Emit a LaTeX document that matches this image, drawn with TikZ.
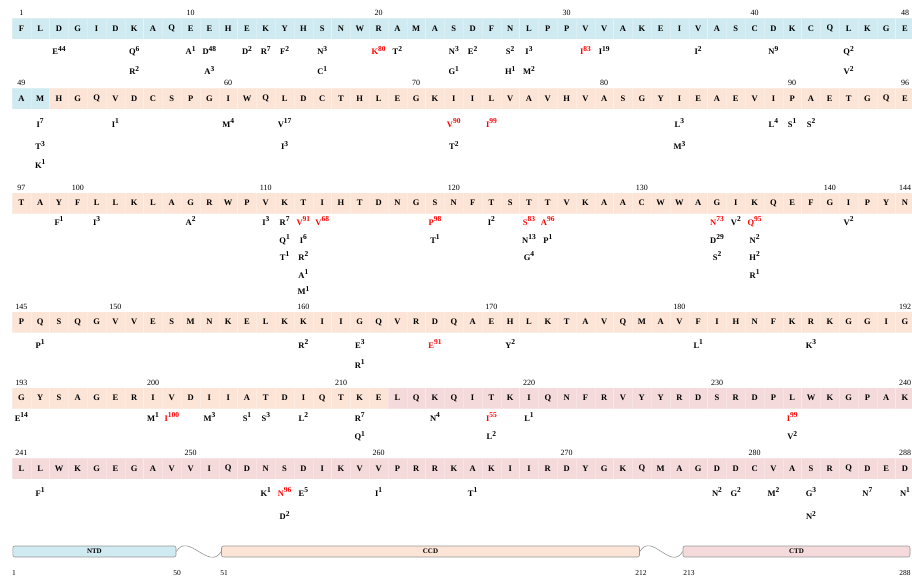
\documentclass[tikz,border=0pt]{standalone}
\usepackage{fontspec}
\setmainfont{Liberation Serif}
\definecolor{ntdc}{RGB}{207,234,240}
\definecolor{ccdc}{RGB}{252,229,214}
\definecolor{ctdc}{RGB}{245,218,220}
\definecolor{mutred}{RGB}{255,0,0}
\definecolor{boxline}{RGB}{150,150,150}
\newcommand{\mutlab}[2]{#1\raisebox{3.4pt}{\fontsize{7.5}{7.5}\selectfont #2}}
\newcommand{\resrow}[3]{%
 \foreach \ch [count=\jj] in {#3} {%
  \pgfmathtruncatemacro{\rn}{#1*48+\jj}%
  \pgfmathsetmacro{\cx}{21.4+(\jj-1)*18.8}%
  \ifnum\rn<51 \def\cellcol{ntdc}\else\ifnum\rn<213 \def\cellcol{ccdc}\else\def\cellcol{ctdc}\fi\fi
  \path[cellbox,fill=\cellcol] ({\cx-9.4},{#2-10.5}) rectangle ({\cx+9.4},{#2+10.5});
  \node[res] (r\rn) at (\cx,#2) {\ch};
 }}
\begin{document}
\begin{tikzpicture}[x=1pt,y=-1pt,
 res/.style={font=\fontsize{8.5}{8.5}\selectfont\bfseries, inner sep=0pt},
 num/.style={font=\fontsize{8}{8}\selectfont, inner sep=0pt},
 mut/.style={font=\fontsize{8.5}{8.5}\selectfont\bfseries, inner sep=0pt, anchor=base},
 mutr/.style={mut, text=mutred},
 cellbox/.style={draw=white, draw opacity=0.25, line width=0.3pt},
 dombox/.style={draw=boxline, line width=0.6pt, rounded corners=2pt, minimum height=11pt, inner sep=0pt, font=\fontsize{7}{7}\selectfont\bfseries},
 dnum/.style={font=\fontsize{7.5}{7.5}\selectfont, inner sep=0pt},
 linker/.style={draw=boxline, line width=0.6pt}]
\useasboundingbox (0,0) rectangle (912,579);

\resrow{0}{28.4}{F,L,D,G,I,D,K,A,Q,E,E,H,E,K,Y,H,S,N,W,R,A,M,A,S,D,F,N,L,P,P,V,V,A,K,E,I,V,A,S,C,D,K,C,Q,L,K,G,E}
\resrow{1}{98.7}{A,M,H,G,Q,V,D,C,S,P,G,I,W,Q,L,D,C,T,H,L,E,G,K,I,I,L,V,A,V,H,V,A,S,G,Y,I,E,A,E,V,I,P,A,E,T,G,Q,E}
\resrow{2}{203}{T,A,Y,F,L,L,K,L,A,G,R,W,P,V,K,T,I,H,T,D,N,G,S,N,F,T,S,T,T,V,K,A,A,C,W,W,A,G,I,K,Q,E,F,G,I,P,Y,N}
\resrow{3}{322}{P,Q,S,Q,G,V,V,E,S,M,N,K,E,L,K,K,I,I,G,Q,V,R,D,Q,A,E,H,L,K,T,A,V,Q,M,A,V,F,I,H,N,F,K,R,K,G,G,I,G}
\resrow{4}{398}{G,Y,S,A,G,E,R,I,V,D,I,I,A,T,D,I,Q,T,K,E,L,Q,K,Q,I,T,K,I,Q,N,F,R,V,Y,Y,R,D,S,R,D,P,L,W,K,G,P,A,K}
\resrow{5}{468.5}{L,L,W,K,G,E,G,A,V,V,I,Q,D,N,S,D,I,K,V,V,P,R,R,K,A,K,I,I,R,D,Y,G,K,Q,M,A,G,D,D,C,V,A,S,R,Q,D,E,D}

% position numbers
\foreach \p in {1,10,20,30,40,48,49,60,70,80,90,96,97,100,110,120,130,140,144,145,150,160,170,180,192,193,200,210,220,230,240,241,250,260,270,280,288}
 \node[num] (n\p) at ([yshift=15.5pt]r\p.center) {\p};

% black mutations: residue / line centre y / letter / count
\foreach \p/\yy/\ml/\ms in {
 3/51.5/E/44, 7/51.5/Q/6, 7/71.5/R/2, 10/51.5/A/1, 11/51.5/D/48, 11/71.5/A/3,
 13/51.5/D/2, 14/51.5/R/7, 15/51.5/F/2, 17/51.5/N/3, 17/71.5/C/1, 21/51.5/T/2,
 24/51.5/N/3, 24/71.5/G/1, 25/51.5/E/2, 27/51.5/S/2, 27/71.5/H/1, 28/51.5/I/3,
 28/71.5/M/2, 32/51.5/I/19, 37/51.5/I/2, 41/51.5/N/9, 45/51.5/Q/2, 45/71.5/V/2,
 50/124/I/7, 50/146.5/T/3, 50/165/K/1, 54/124/I/1, 60/124/M/4, 63/124/V/17,
 63/146.5/I/3, 72/146.5/T/2, 84/124/L/3, 84/146.5/M/3, 89/124/L/4, 90/124/S/1, 91/124/S/2,
 99/222/F/1, 101/222/I/3, 106/222/A/2, 110/222/I/3, 111/222/R/7, 111/240/Q/1, 111/257/T/1,
 112/240/I/6, 112/257/R/2, 112/275/A/1, 112/291.5/M/1, 119/240/T/1, 122/222/I/2,
 124/240/N/13, 124/257/G/4, 125/240/P/1, 134/240/D/29, 134/257/S/2, 135/222/V/2,
 136/240/N/2, 136/257/H/2, 136/275/R/1, 141/222/V/2,
 146/345/P/1, 160/345/R/2, 163/345/E/3, 163/365/R/1, 171/345/Y/2, 181/345/L/1, 187/345/K/3,
 193/418/E/14, 200/418/M/1, 203/418/M/3, 205/418/S/1, 206/418/S/3, 208/418/L/2,
 211/418/R/7, 211/436.5/Q/1, 215/418/N/4, 218/436.5/L/2, 220/418/L/1, 234/436.5/V/2,
 242/493/F/1, 254/493/K/1, 255/516.5/D/2, 256/493/E/5, 260/493/I/1, 265/493/T/1,
 278/493/N/2, 279/493/G/2, 281/493/M/2, 283/493/G/3, 283/516.5/N/2, 286/493/N/7, 288/493/N/1}
 \node[mut] (m\p-\ml\ms) at ({21.4+mod(\p-1,48)*18.8},{\yy+3}) {\mutlab{\ml}{\ms}};

% red mutations
\foreach \p/\yy/\ml/\ms in {
 20/51.5/K/80, 31/51.5/I/83, 72/124/V/90, 74/124/I/99, 112/222/V/91, 113/222/V/68,
 119/222/P/98, 124/222/S/83, 125/222/A/96, 134/222/N/73, 136/222/Q/95, 167/345/E/91,
 201/418/I/100, 218/418/I/55, 234/418/I/99, 255/493/N/96}
 \node[mutr] (m\p-\ml\ms) at ({21.4+mod(\p-1,48)*18.8},{\yy+3}) {\mutlab{\ml}{\ms}};

% domain bar
\node[dombox, fill=ntdc, minimum width=163.2pt] (ntd) at (94.4,551.5) {NTD};
\node[dombox, fill=ccdc, minimum width=418pt] (ccd) at (430.5,551.5) {CCD};
\node[dombox, fill=ctdc, minimum width=227pt] (ctd) at (796.5,551.5) {CTD};
\draw[linker] (ntd.east) .. controls +(12,-20) and +(-12,20) .. (ccd.west);
\draw[linker] (ccd.east) .. controls +(12,-20) and +(-12,20) .. (ctd.west);
\node[dnum] (d1) at (14,573) {1};
\node[dnum] (d50) at (177,573) {50};
\node[dnum] (d51) at (224,573) {51};
\node[dnum] (d212) at (641,573) {212};
\node[dnum] (d213) at (689,573) {213};
\node[dnum] (d288) at (905,573) {288};
\end{tikzpicture}
\end{document}
